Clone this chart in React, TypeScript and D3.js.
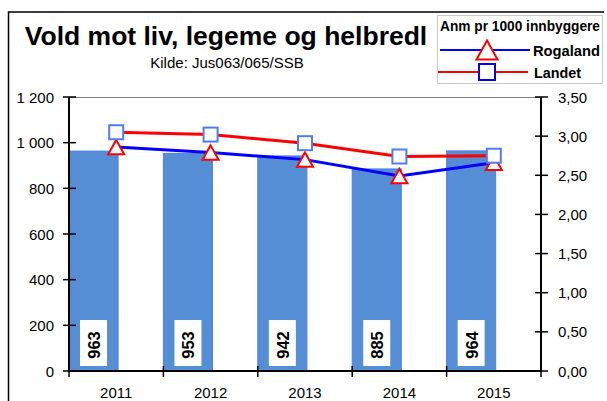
import React from "react";
import * as d3 from "d3";

const years = ["2011", "2012", "2013", "2014", "2015"];
const antall = [963, 953, 942, 885, 964];
const rogaland = [2.86, 2.79, 2.7, 2.49, 2.66];
const landet = [3.05, 3.02, 2.91, 2.74, 2.75];
const leftTicks = [0, 200, 400, 600, 800, 1000, 1200];
const rightTicks = [0, 0.5, 1, 1.5, 2, 2.5, 3, 3.5];

const FONT = "'Liberation Sans', Arial, sans-serif";

export default function App() {
  const W = 607, H = 401;
  const x = d3.scaleBand<string>().domain(years).range([69, 541]).paddingInner(0).paddingOuter(0);
  const yL = d3.scaleLinear().domain([0, 1200]).range([371, 97]);
  const yR = d3.scaleLinear().domain([0, 3.5]).range([371, 97]);
  const bw = x.bandwidth();
  const barW = bw * 0.52;
  const cx = (y: string) => (x(y) as number) + bw / 2;

  const line = d3.line<number>().x((_, i) => cx(years[i])).y((d) => yR(d));

  const tri = (px: number, py: number, s: number) => {
    const h = s * 0.9;
    return `M${px},${py - h / 2} L${px + s / 2},${py + h / 2} L${px - s / 2},${py + h / 2} Z`;
  };

  const fmtL = (v: number) => (v >= 1000 ? d3.format(",")(v).replace(",", " ") : String(v));
  const fmtR = (v: number) => v.toFixed(2).replace(".", ",");

  return (
    <svg width={W} height={H} style={{ position: "absolute", left: 0, top: 0, background: "#fff" }} fontFamily={FONT}>
      <rect x={0} y={0} width={W} height={H} fill="#fff" />
      {/* outer border */}
      <path d={`M8.5,${H + 5} L8.5,12 L604,12`} fill="none" stroke="#000" strokeWidth={1.5} />

      {/* title */}
      <text x={226} y={45} textAnchor="middle" fontSize={26.5} fontWeight="bold" fill="#000">
        Vold mot liv, legeme og helbredl
      </text>
      <text x={227} y={68} textAnchor="middle" fontSize={15} fill="#000">
        Kilde: Jus063/065/SSB
      </text>

      {/* plot top border */}
      <line x1={69} x2={541} y1={97.5} y2={97.5} stroke="#808080" strokeWidth={1} />

      {/* bars */}
      {years.map((yr, i) => (
        <rect
          key={yr}
          x={x(yr) as number}
          y={yL(antall[i])}
          width={barW}
          height={yL(0) - yL(antall[i])}
          fill="#558ed5"
          stroke="#4f7cf5"
          strokeWidth={1}
        />
      ))}

      {/* lines */}
      <path d={line(landet) as string} fill="none" stroke="#ff0000" strokeWidth={3} />
      <path d={line(rogaland) as string} fill="none" stroke="#0000ff" strokeWidth={3} />
      {years.map((yr, i) => (
        <path key={"t" + yr} d={tri(cx(yr), yR(rogaland[i]), 16)} fill="#fff" stroke="#ff0000" strokeWidth={2} />
      ))}
      {years.map((yr, i) => (
        <rect
          key={"s" + yr}
          x={cx(yr) - 7}
          y={yR(landet[i]) - 7}
          width={14}
          height={14}
          fill="#fff"
          stroke="#4f7cf5"
          strokeWidth={2}
        />
      ))}

      {/* bar labels */}
      {years.map((yr, i) => {
        const bx = (x(yr) as number) + barW / 2;
        const by = 343;
        return (
          <g key={"l" + yr}>
            <rect x={bx - 13.5} y={by - 23} width={27} height={46} fill="#fff" />
            <text
              transform={`translate(${bx + 6.5},${by + 2}) rotate(-90)`}
              textAnchor="middle"
              fontSize={16.5}
              fontWeight="bold"
              fill="#000"
            >
              {antall[i]}
            </text>
          </g>
        );
      })}

      {/* left axis */}
      <line x1={69} x2={69} y1={97} y2={371} stroke="#000" strokeWidth={2} />
      {leftTicks.map((t) => (
        <g key={"lt" + t}>
          <line x1={63} x2={76} y1={yL(t)} y2={yL(t)} stroke="#000" strokeWidth={1.5} />
          <text x={54} y={yL(t) + 5.5} textAnchor="end" fontSize={15} fill="#000">
            {fmtL(t)}
          </text>
        </g>
      ))}

      {/* right axis */}
      <line x1={541} x2={541} y1={97} y2={371} stroke="#000" strokeWidth={2} />
      {rightTicks.map((t) => (
        <g key={"rt" + t}>
          <line x1={535} x2={548} y1={yR(t)} y2={yR(t)} stroke="#000" strokeWidth={1.5} />
          <text x={558} y={yR(t) + 5.5} textAnchor="start" fontSize={15} fill="#000">
            {fmtR(t)}
          </text>
        </g>
      ))}

      {/* bottom axis */}
      <line x1={69} x2={541} y1={371} y2={371} stroke="#000" strokeWidth={2} />
      {years.map((yr) => (
        <line key={"bt" + yr} x1={x(yr) as number} x2={x(yr) as number} y1={366} y2={377} stroke="#000" strokeWidth={1.5} />
      ))}
      <line x1={541} x2={541} y1={366} y2={377} stroke="#000" strokeWidth={1.5} />
      {years.map((yr) => (
        <text key={"bl" + yr} x={cx(yr)} y={398} textAnchor="middle" fontSize={15} fill="#000">
          {yr}
        </text>
      ))}

      {/* legend */}
      <rect x={437.5} y={15.5} width={165} height={68} fill="#fff" stroke="#c8c8c8" strokeWidth={1} />
      <text x={440} y={31} fontSize={14} fontWeight="bold" textLength={160} lengthAdjust="spacingAndGlyphs" fill="#000">
        Anm pr 1000 innbyggere
      </text>
      <line x1={440} x2={530} y1={50} y2={50} stroke="#0000ff" strokeWidth={2} />
      <path d={tri(487, 50, 21)} fill="#fff" stroke="#ff0000" strokeWidth={2} />
      <text x={533} y={56} fontSize={15} fontWeight="bold" textLength={67} lengthAdjust="spacingAndGlyphs" fill="#000">
        Rogaland
      </text>
      <line x1={438} x2={528} y1={72} y2={72} stroke="#ff0000" strokeWidth={2} />
      <rect x={479} y={64} width={16} height={16} fill="#fff" stroke="#0000ff" strokeWidth={2} />
      <text x={534} y={78} fontSize={15} fontWeight="bold" textLength={47} lengthAdjust="spacingAndGlyphs" fill="#000">
        Landet
      </text>
    </svg>
  );
}
